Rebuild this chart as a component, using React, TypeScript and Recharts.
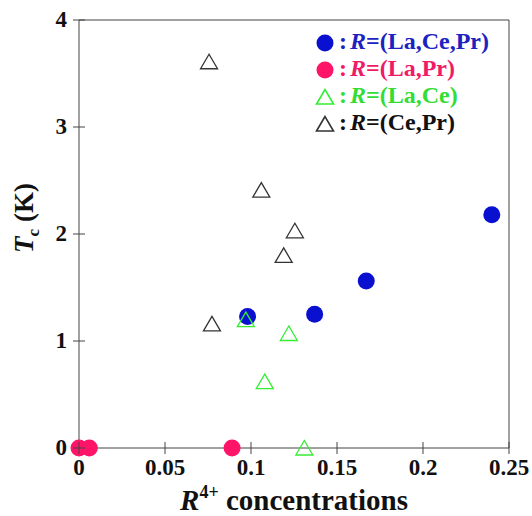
import React from 'react';
import {
  ScatterChart,
  Scatter,
  XAxis,
  YAxis,
  ReferenceLine,
} from 'recharts';

const FONT = "'Liberation Serif', 'Times New Roman', serif";
const AXIS = '#444444';

const X_TICKS = [0, 0.05, 0.1, 0.15, 0.2, 0.25];
const Y_TICKS = [0, 1, 2, 3, 4];

// R = (La,Ce,Pr)
const laCePr = [
  { x: 0.098, y: 1.23 },
  { x: 0.137, y: 1.25 },
  { x: 0.167, y: 1.56 },
  { x: 0.24, y: 2.18 },
];
// R = (La,Pr)
const laPr = [
  { x: 0, y: 0 },
  { x: 0.006, y: 0 },
  { x: 0.089, y: 0 },
];
// R = (La,Ce)
const laCe = [
  { x: 0.097, y: 1.2 },
  { x: 0.108, y: 0.62 },
  { x: 0.122, y: 1.07 },
  { x: 0.131, y: 0 },
];
// R = (Ce,Pr)
const cePr = [
  { x: 0.0756, y: 3.61 },
  { x: 0.0773, y: 1.16 },
  { x: 0.106, y: 2.41 },
  { x: 0.119, y: 1.8 },
  { x: 0.1255, y: 2.03 },
];

const SERIES = [
  { name: '(La,Ce,Pr)', marker: 'circle', color: '#0a10d0', text: '#1c22c0' },
  { name: '(La,Pr)', marker: 'circle', color: '#ff1468', text: '#f01a66' },
  { name: '(La,Ce)', marker: 'triangle', color: '#33ee33', text: '#33dd33' },
  { name: '(Ce,Pr)', marker: 'triangle', color: '#333333', text: '#111111' },
];

const labelStyle: React.CSSProperties = {
  fontFamily: FONT,
  fontWeight: 'bold',
  fontSize: 23,
  lineHeight: '28px',
  color: '#111',
  whiteSpace: 'nowrap',
};

function Dot(color: string) {
  return (props: any) => (
    <circle cx={props.cx} cy={props.cy} r={8.5} fill={color} />
  );
}

function Tri(color: string) {
  return (props: any) => {
    const { cx, cy } = props;
    const pts = `${cx},${cy - 7.5} ${cx - 8.5},${cy + 7} ${cx + 8.5},${cy + 7}`;
    return <polygon points={pts} fill="none" stroke={color} strokeWidth={1.3} />;
  };
}

function XTick(props: any) {
  const { x, y, payload } = props;
  const axisY = y - 8;
  return (
    <g>
      <line x1={x} x2={x} y1={axisY - 6} y2={axisY + 6} stroke={AXIS} />
      <foreignObject x={x - 35} y={axisY + 5.5} width={70} height={28}>
        <div style={{ ...labelStyle, textAlign: 'center' }}>{payload.value}</div>
      </foreignObject>
    </g>
  );
}

function YTick(props: any) {
  const { x, y, payload } = props;
  const axisX = x + 8;
  return (
    <g>
      <line x1={axisX - 6} x2={axisX + 6} y1={y} y2={y} stroke={AXIS} />
      <foreignObject x={axisX - 52} y={y - 14} width={40} height={28}>
        <div style={{ ...labelStyle, textAlign: 'right' }}>{payload.value}</div>
      </foreignObject>
    </g>
  );
}

function Legend() {
  return (
    <>
      <svg
        width={40}
        height={120}
        style={{ position: 'absolute', left: 310, top: 28 }}
      >
        {SERIES.map((s, i) => {
          const cy = 15 + i * 27;
          return s.marker === 'circle' ? (
            <circle key={s.name} cx={15} cy={cy} r={8.5} fill={s.color} />
          ) : (
            <polygon
              key={s.name}
              points={`15,${cy - 7.5} 6.5,${cy + 7} 23.5,${cy + 7}`}
              fill="none"
              stroke={s.color}
              strokeWidth={1.6}
            />
          );
        })}
      </svg>
      {SERIES.map((s, i) => (
        <div
          key={s.name}
          style={{
            position: 'absolute',
            left: 339,
            top: 27.5 + i * 27,
            fontFamily: FONT,
            fontWeight: 'bold',
            fontSize: 24,
            lineHeight: '27px',
            color: s.text,
            whiteSpace: 'nowrap',
          }}
        >
          :<span style={{ fontStyle: 'italic', marginLeft: 3 }}>R</span>={s.name}
        </div>
      ))}
    </>
  );
}

export default function App() {
  return (
    <div style={{ position: 'absolute', left: 0, top: 0, width: 532, height: 516, background: '#fff' }}>
      <ScatterChart
        width={532}
        height={516}
        margin={{ top: 20, right: 23, bottom: 0, left: 0 }}
      >
        <XAxis
          type="number"
          dataKey="x"
          domain={[0, 0.25]}
          ticks={X_TICKS}
          height={68}
          stroke={AXIS}
          tickLine={false}
          tickSize={6}
          tickMargin={2}
          tick={<XTick />}
          interval={0}
        />
        <YAxis
          type="number"
          dataKey="y"
          domain={[0, 4]}
          ticks={Y_TICKS}
          width={79}
          stroke={AXIS}
          tickLine={false}
          tickSize={6}
          tickMargin={2}
          tick={<YTick />}
          interval={0}
        />
        <ReferenceLine y={4} stroke={AXIS} />
        <ReferenceLine x={0.25} stroke={AXIS} />
        <Scatter data={laPr} shape={Dot(SERIES[1].color)} isAnimationActive={false} />
        <Scatter data={laCePr} shape={Dot(SERIES[0].color)} isAnimationActive={false} />
        <Scatter data={laCe} shape={Tri(SERIES[2].color)} isAnimationActive={false} />
        <Scatter data={cePr} shape={Tri(SERIES[3].color)} isAnimationActive={false} />
      </ScatterChart>
      <div
        style={{
          position: 'absolute',
          left: 144,
          top: 484,
          width: 300,
          textAlign: 'center',
          fontFamily: FONT,
          fontWeight: 'bold',
          fontSize: 29,
          lineHeight: '32px',
          color: '#111',
          whiteSpace: 'nowrap',
        }}
      >
        <span style={{ fontStyle: 'italic' }}>R</span>
        <span style={{ fontSize: 18, position: 'relative', top: -12 }}>4+</span> concentrations
      </div>
      <div
        style={{
          position: 'absolute',
          left: -36,
          top: 203,
          width: 120,
          height: 30,
          transform: 'rotate(-90deg)',
          textAlign: 'center',
          fontFamily: FONT,
          fontWeight: 'bold',
          fontSize: 27,
          lineHeight: '30px',
          color: '#111',
          whiteSpace: 'nowrap',
        }}
      >
        <span style={{ fontStyle: 'italic' }}>T</span>
        <span style={{ fontSize: 17, position: 'relative', top: 6 }}>c</span> (K)
      </div>
      <Legend />
    </div>
  );
}
